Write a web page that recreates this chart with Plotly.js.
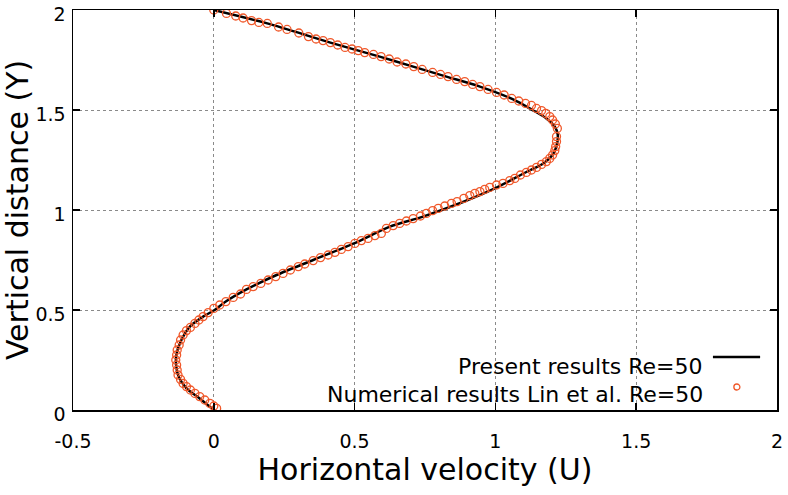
<!DOCTYPE html>
<html>
<head>
<meta charset="utf-8">
<script src="https://cdn.plot.ly/plotly-3.0.1.min.js"></script>
<style>html,body{margin:0;padding:0;background:#fff;}#chart{width:788px;height:495px;}</style>
</head>
<body>
<div id="chart"></div>
<script>
// Present results Re=50 (solid line)
var presentU = [0, 0.19, 0.414, 0.589, 0.708, 0.826, 0.945, 1.063, 1.128, 1.181, 1.211, 1.221, 1.22, 1.205, 1.17, 1.11, 0.998, 0.885, 0.743, 0.625, 0.498, 0.353, 0.223, 0.116, 0.04, 0.003, -0.038, -0.085, -0.115, -0.132, -0.134, -0.125, -0.097, -0.05, 0];
var presentY = [2, 1.933, 1.837, 1.767, 1.717, 1.667, 1.617, 1.553, 1.503, 1.458, 1.417, 1.38, 1.34, 1.28, 1.233, 1.19, 1.108, 1.04, 0.967, 0.917, 0.833, 0.75, 0.675, 0.603, 0.54, 0.5, 0.467, 0.417, 0.35, 0.283, 0.225, 0.167, 0.108, 0.058, 0];

// Numerical results Lin et al. Re=50 (open circles)
var linU = [0.0, 0.045, 0.078, 0.104, 0.134, 0.16, 0.19, 0.23, 0.26, 0.302, 0.336, 0.363, 0.388, 0.414, 0.44, 0.466, 0.491, 0.513, 0.536, 0.567, 0.594, 0.623, 0.651,
  0.682, 0.71, 0.74, 0.777, 0.805, 0.832, 0.862, 0.891, 0.919, 0.945, 0.974, 1.004, 1.031, 1.058, 1.083, 1.107, 1.128, 1.146, 1.164, 1.179, 1.193, 1.203, 1.213, 1.22, 1.217,
  1.217, 1.214, 1.211, 1.203, 1.193, 1.181, 1.164, 1.146, 1.128, 1.11, 1.089, 1.069, 1.051, 1.027, 1.004, 0.98, 0.962, 0.945, 0.927, 0.909, 0.888, 0.864, 0.844, 0.82, 0.797, 0.777, 0.755, 0.734, 0.708, 0.684, 0.66, 0.637, 0.613,
  0.595, 0.572, 0.548, 0.524, 0.501, 0.477, 0.453, 0.43, 0.406, 0.379, 0.353, 0.323, 0.3, 0.272, 0.246, 0.22, 0.193, 0.167, 0.14, 0.116,
  0.095, 0.069, 0.043, 0.021, 0.0, -0.02, -0.038, -0.053, -0.067, -0.083, -0.097, -0.109, -0.118, -0.123, -0.13, -0.132, -0.135, -0.132, -0.13, -0.127, -0.118, -0.109, -0.097, -0.083, -0.067, -0.05, -0.032, -0.014, 0.0, 0.01];
var linY = [2.0, 1.983, 1.97, 1.96, 1.947, 1.938, 1.933, 1.915, 1.903, 1.885, 1.867, 1.855, 1.847, 1.837, 1.825, 1.813, 1.805, 1.797, 1.787, 1.778, 1.767, 1.755, 1.74,
  1.73, 1.717, 1.703, 1.688, 1.678, 1.667, 1.653, 1.642, 1.628, 1.617, 1.603, 1.588, 1.575, 1.558, 1.545, 1.533, 1.523, 1.508, 1.497, 1.483, 1.467, 1.45, 1.43, 1.408, 1.367,
  1.342, 1.317, 1.297, 1.275, 1.258, 1.242, 1.228, 1.213, 1.2, 1.188, 1.175, 1.158, 1.147, 1.133, 1.125, 1.113, 1.103, 1.092, 1.083, 1.072, 1.058, 1.042, 1.033, 1.02, 1.008, 0.997, 0.983, 0.97, 0.957, 0.945, 0.933, 0.922, 0.908,
  0.883, 0.872, 0.858, 0.847, 0.833, 0.817, 0.803, 0.788, 0.775, 0.762, 0.747, 0.73, 0.717, 0.7, 0.683, 0.667, 0.65, 0.633, 0.617, 0.603,
  0.58, 0.563, 0.542, 0.525, 0.508, 0.487, 0.467, 0.45, 0.433, 0.413, 0.397, 0.375, 0.35, 0.325, 0.3, 0.275, 0.25, 0.225, 0.2, 0.175, 0.153, 0.133, 0.117, 0.1, 0.083, 0.067, 0.05, 0.033, 0.02, 0.008];

var xTicks = [-0.5, 0, 0.5, 1, 1.5, 2];
var xTickText = ['-0.5', '0', '0.5', '1', '1.5', '2'];
var yTicks = [0, 0.5, 1, 1.5, 2];
var yTickText = ['0', '0.5', '1', '1.5', '2'];
var legendNames = ['Present results Re=50', 'Numerical results Lin et al. Re=50'];

var FONT = 'DejaVu Sans, sans-serif';
var ORANGE = '#f0582a';

var traces = [
  {x: presentU, y: presentY, mode: 'lines', type: 'scatter', name: legendNames[0],
   line: {color: '#000', width: 2.5, shape: 'spline', smoothing: 0.8}, showlegend: false},
  {x: linU, y: linY, mode: 'markers', type: 'scatter', name: legendNames[1],
   marker: {symbol: 'circle-open', size: 8, color: ORANGE, line: {width: 1.3, color: ORANGE}}, showlegend: false}
];

var axisCommon = {
  showline: true, linecolor: '#000', linewidth: 1.5, mirror: 'allticks',
  ticks: 'inside', ticklen: 7, tickwidth: 1.5, tickcolor: '#000',
  showgrid: true, gridcolor: '#8a8a8a', gridwidth: 1, griddash: 'dot',
  zeroline: false, tickfont: {family: FONT, size: 19, color: '#000'},
  ticklabeloverflow: 'allow'
};

var layout = {
  width: 788, height: 495,
  margin: {l: 73, r: 11, t: 10, b: 85},
  paper_bgcolor: '#fff', plot_bgcolor: '#fff',
  font: {family: FONT, color: '#000'},
  xaxis: Object.assign({}, axisCommon, {
    range: [-0.5, 2], tickmode: 'array', tickvals: xTicks, ticktext: xTickText,
    ticklabelstandoff: 14,
    title: {text: 'Horizontal velocity (U)', font: {family: FONT, size: 30, color: '#000'}, standoff: 4}
  }),
  yaxis: Object.assign({}, axisCommon, {
    range: [0, 2.0001], tickmode: 'array', tickvals: yTicks, ticktext: yTickText,
    ticklabelstandoff: 2, ticklabelshift: 4,
    title: {text: 'Vertical distance (Y)', font: {family: FONT, size: 30, color: '#000'}, standoff: 6}
  }),
  annotations: [
    {xref: 'paper', yref: 'paper', x: 0.898, y: 0.11, xanchor: 'right', yanchor: 'middle', showarrow: false,
     text: legendNames[0], font: {family: FONT, size: 22, color: '#000'}},
    {xref: 'paper', yref: 'paper', x: 0.898, y: 0.04, xanchor: 'right', yanchor: 'middle', showarrow: false,
     text: legendNames[1], font: {family: FONT, size: 22, color: '#000'}}
  ],
  shapes: [
    {type: 'line', xref: 'paper', yref: 'paper', x0: 0.909, x1: 0.976, y0: 0.1325, y1: 0.1325, line: {color: '#000', width: 2.5}},
    {type: 'circle', xref: 'paper', yref: 'paper', x0: 0.9387, x1: 0.9473, y0: 0.05, y1: 0.065, line: {color: ORANGE, width: 1.3}}
  ]
};

Plotly.newPlot('chart', traces, layout, {displayModeBar: false, staticPlot: true});
</script>
</body>
</html>
